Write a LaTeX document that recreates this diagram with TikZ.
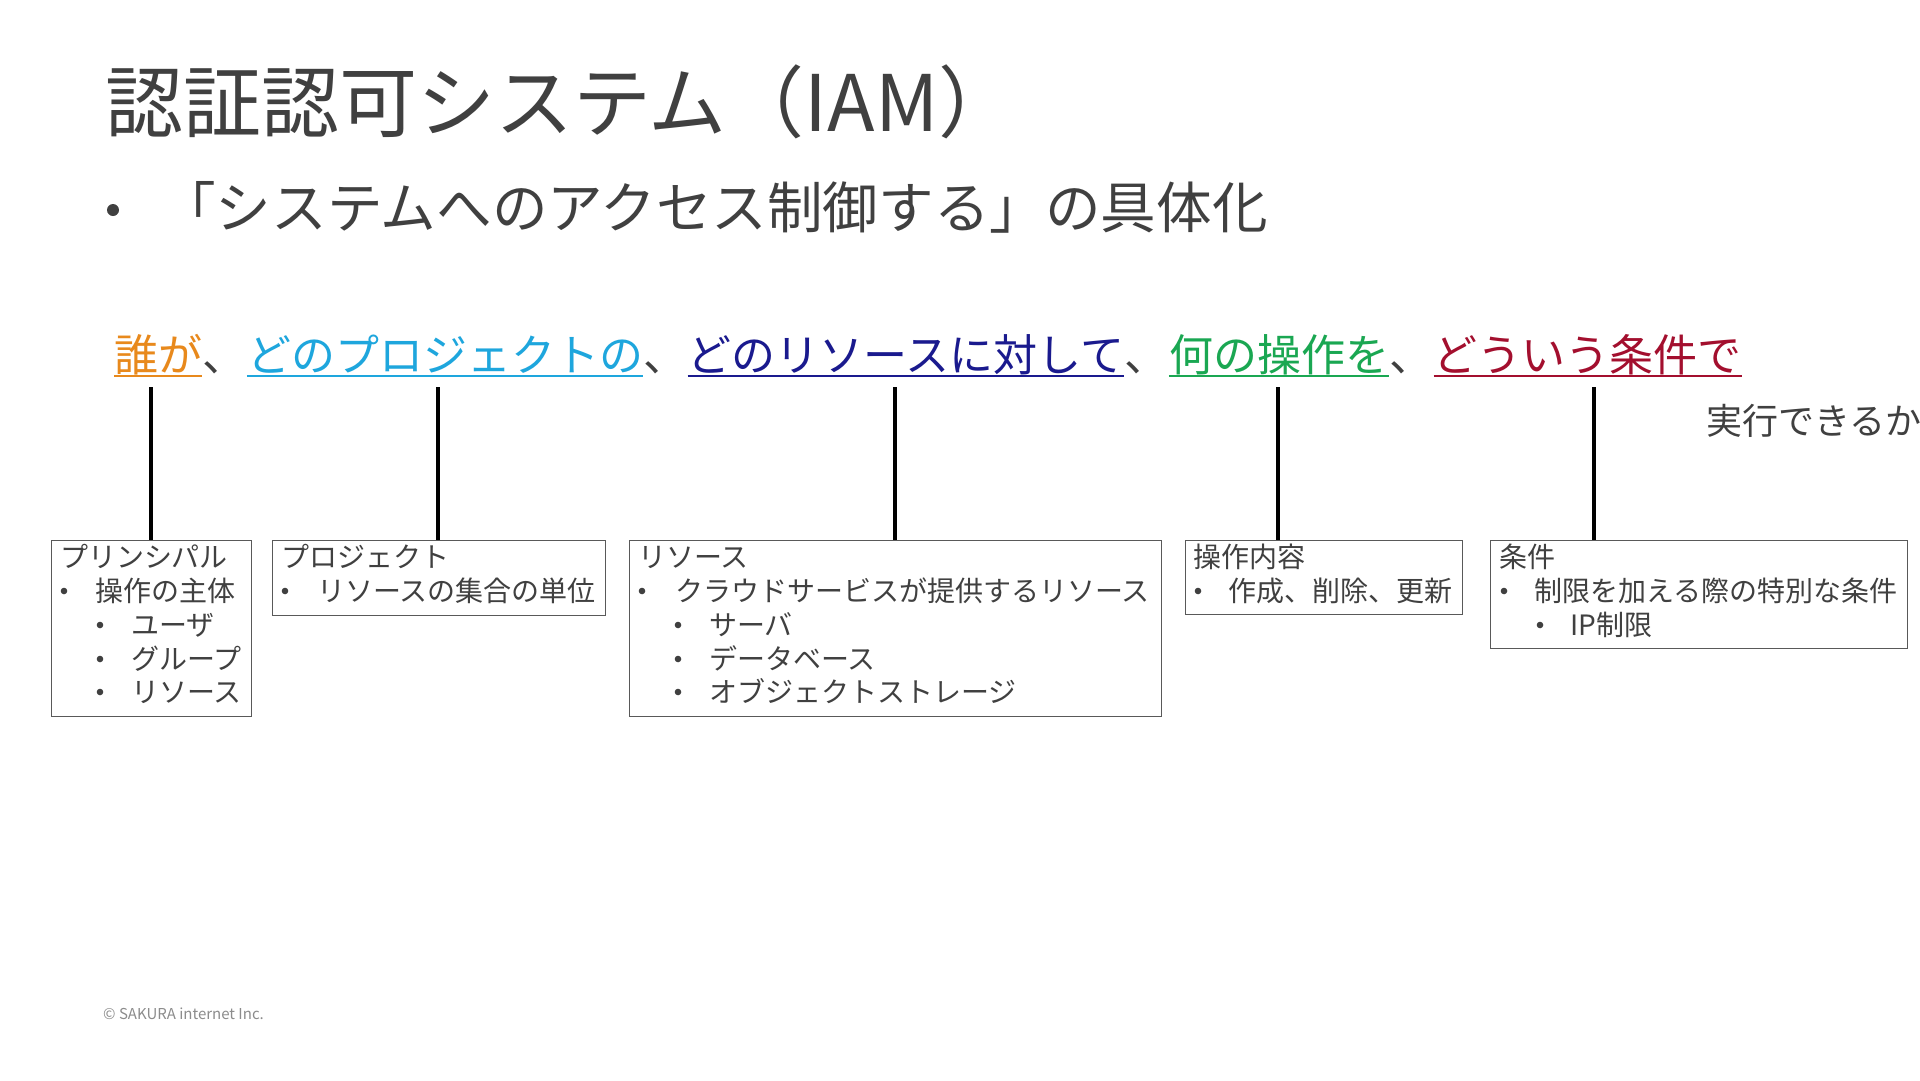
\documentclass[tikz,border=0pt]{standalone}
\usepackage{fontspec}
\setmainfont{Noto Sans CJK JP}
\definecolor{txt}{HTML}{404040}
\definecolor{boxline}{HTML}{595959}
\definecolor{cpy}{HTML}{8C8C8C}
\definecolor{corange}{HTML}{E8891C}
\definecolor{cblue}{HTML}{1EA6DD}
\definecolor{cnavy}{HTML}{1A1A8E}
\definecolor{cgreen}{HTML}{1AA752}
\definecolor{cred}{HTML}{A30F2E}
\tikzset{
  title/.style={anchor=base west, inner sep=0pt, text=txt, font=\fontsize{78}{84}\selectfont},
  sub/.style={anchor=base west, inner sep=0pt, text=txt, font=\fontsize{55.6}{60}\selectfont},
  seg/.style={anchor=base west, inner sep=0pt, font=\fontsize{44}{50}\selectfont},
  ul/.style={line width=2.8pt},
  conn/.style={line width=3.4pt, black},
  box/.style={draw=boxline, line width=1.3pt, anchor=north west, inner sep=0pt},
  bt/.style={anchor=base west, inner sep=0pt, text=txt, font=\fontsize{28}{30}\selectfont},
  dot/.style={fill=txt}
}
\begin{document}
\begin{tikzpicture}[x=1pt,y=-1pt]
\useasboundingbox[fill=white] (0,0) rectangle (1920,1080);
% title
\node[title] (ttl) at (105,131) {認証認可システム（IAM）};
\fill[dot] (113,210) circle (6);
\node[sub] (subt) at (160,228) {「システムへのアクセス制御する」の具体化};
% colored line
\node[seg, text=corange] (s1) at (114,371) {誰が};
\node[seg, text=txt] (k1) at (s1.base east) {、};
\node[seg, text=cblue] (s2) at (k1.base east) {どのプロジェクトの};
\node[seg, text=txt] (k2) at (s2.base east) {、};
\node[seg, text=cnavy] (s3) at (k2.base east) {どのリソースに対して};
\node[seg, text=txt] (k3) at (s3.base east) {、};
\node[seg, text=cgreen] (s4) at (k3.base east) {何の操作を};
\node[seg, text=txt] (k4) at (s4.base east) {、};
\node[seg, text=cred] (s5) at (k4.base east) {どういう条件で};
\draw[ul, corange] ([yshift=-5pt]s1.base west) -- ([yshift=-5pt]s1.base east);
\draw[ul, cblue] ([yshift=-5pt]s2.base west) -- ([yshift=-5pt]s2.base east);
\draw[ul, cnavy] ([yshift=-5pt]s3.base west) -- ([yshift=-5pt]s3.base east);
\draw[ul, cgreen] ([yshift=-5pt]s4.base west) -- ([yshift=-5pt]s4.base east);
\draw[ul, cred] ([yshift=-5pt]s5.base west) -- ([yshift=-5pt]s5.base east);
\node[anchor=base west, inner sep=0pt, text=txt, font=\fontsize{36}{40}\selectfont] (exe) at (1706,434) {実行できるか};
% boxes
\node[box, minimum width=200pt, minimum height=176pt] (b1) at (51,540) {};
\node[box, minimum width=333pt, minimum height=75pt] (b2) at (272,540) {};
\node[box, minimum width=532pt, minimum height=176pt] (b3) at (629,540) {};
\node[box, minimum width=277pt, minimum height=74pt] (b4) at (1185,540) {};
\node[box, minimum width=417pt, minimum height=108pt] (b5) at (1490,540) {};
% connectors
\coordinate (t1) at (151,387);
\coordinate (t2) at (438,387);
\coordinate (t3) at (895,387);
\coordinate (t4) at (1278,387);
\coordinate (t5) at (1594,387);
\draw[conn] (t1) -- (t1 |- b1.north);
\draw[conn] (t2) -- (t2 |- b2.north);
\draw[conn] (t3) -- (t3 |- b3.north);
\draw[conn] (t4) -- (t4 |- b4.north);
\draw[conn] (t5) -- (t5 |- b5.north);
% box 1
\node[bt] (b1h) at (60,567) {プリンシパル};
\fill[dot] (64,591) circle (3.3);
\node[bt] (b1a) at (95,601) {操作の主体};
\fill[dot] (100,625) circle (3.3);
\node[bt] (b1b) at (131,635) {ユーザ};
\fill[dot] (100,659) circle (3.3);
\node[bt] (b1c) at (131,669) {グループ};
\fill[dot] (100,692) circle (3.3);
\node[bt] (b1d) at (131,702) {リソース};
% box 2
\node[bt] (b2h) at (281,567) {プロジェクト};
\fill[dot] (285,591) circle (3.3);
\node[bt] (b2a) at (317,601) {リソースの集合の単位};
% box 3
\node[bt] (b3h) at (638,567) {リソース};
\fill[dot] (642,591) circle (3.3);
\node[bt] (b3a) at (675,601) {クラウドサービスが提供するリソース};
\fill[dot] (678,625) circle (3.3);
\node[bt] (b3b) at (709,635) {サーバ};
\fill[dot] (678,659) circle (3.3);
\node[bt] (b3c) at (709,669) {データベース};
\fill[dot] (678,692) circle (3.3);
\node[bt] (b3d) at (709,702) {オブジェクトストレージ};
% box 4
\node[bt] (b4h) at (1193,567) {操作内容};
\fill[dot] (1198,591) circle (3.3);
\node[bt] (b4a) at (1228,601) {作成、削除、更新};
% box 5
\node[bt] (b5h) at (1499,567) {条件};
\fill[dot] (1504,591) circle (3.3);
\node[bt] (b5a) at (1534,601) {制限を加える際の特別な条件};
\fill[dot] (1540,625) circle (3.3);
\node[bt] (b5b) at (1570,635) {IP制限};
% copyright
\node[anchor=base west, inner sep=0pt, text=cpy, font=\fontsize{15}{18}\selectfont] (cp) at (103,1019) {© SAKURA internet Inc.};
\end{tikzpicture}
\end{document}
